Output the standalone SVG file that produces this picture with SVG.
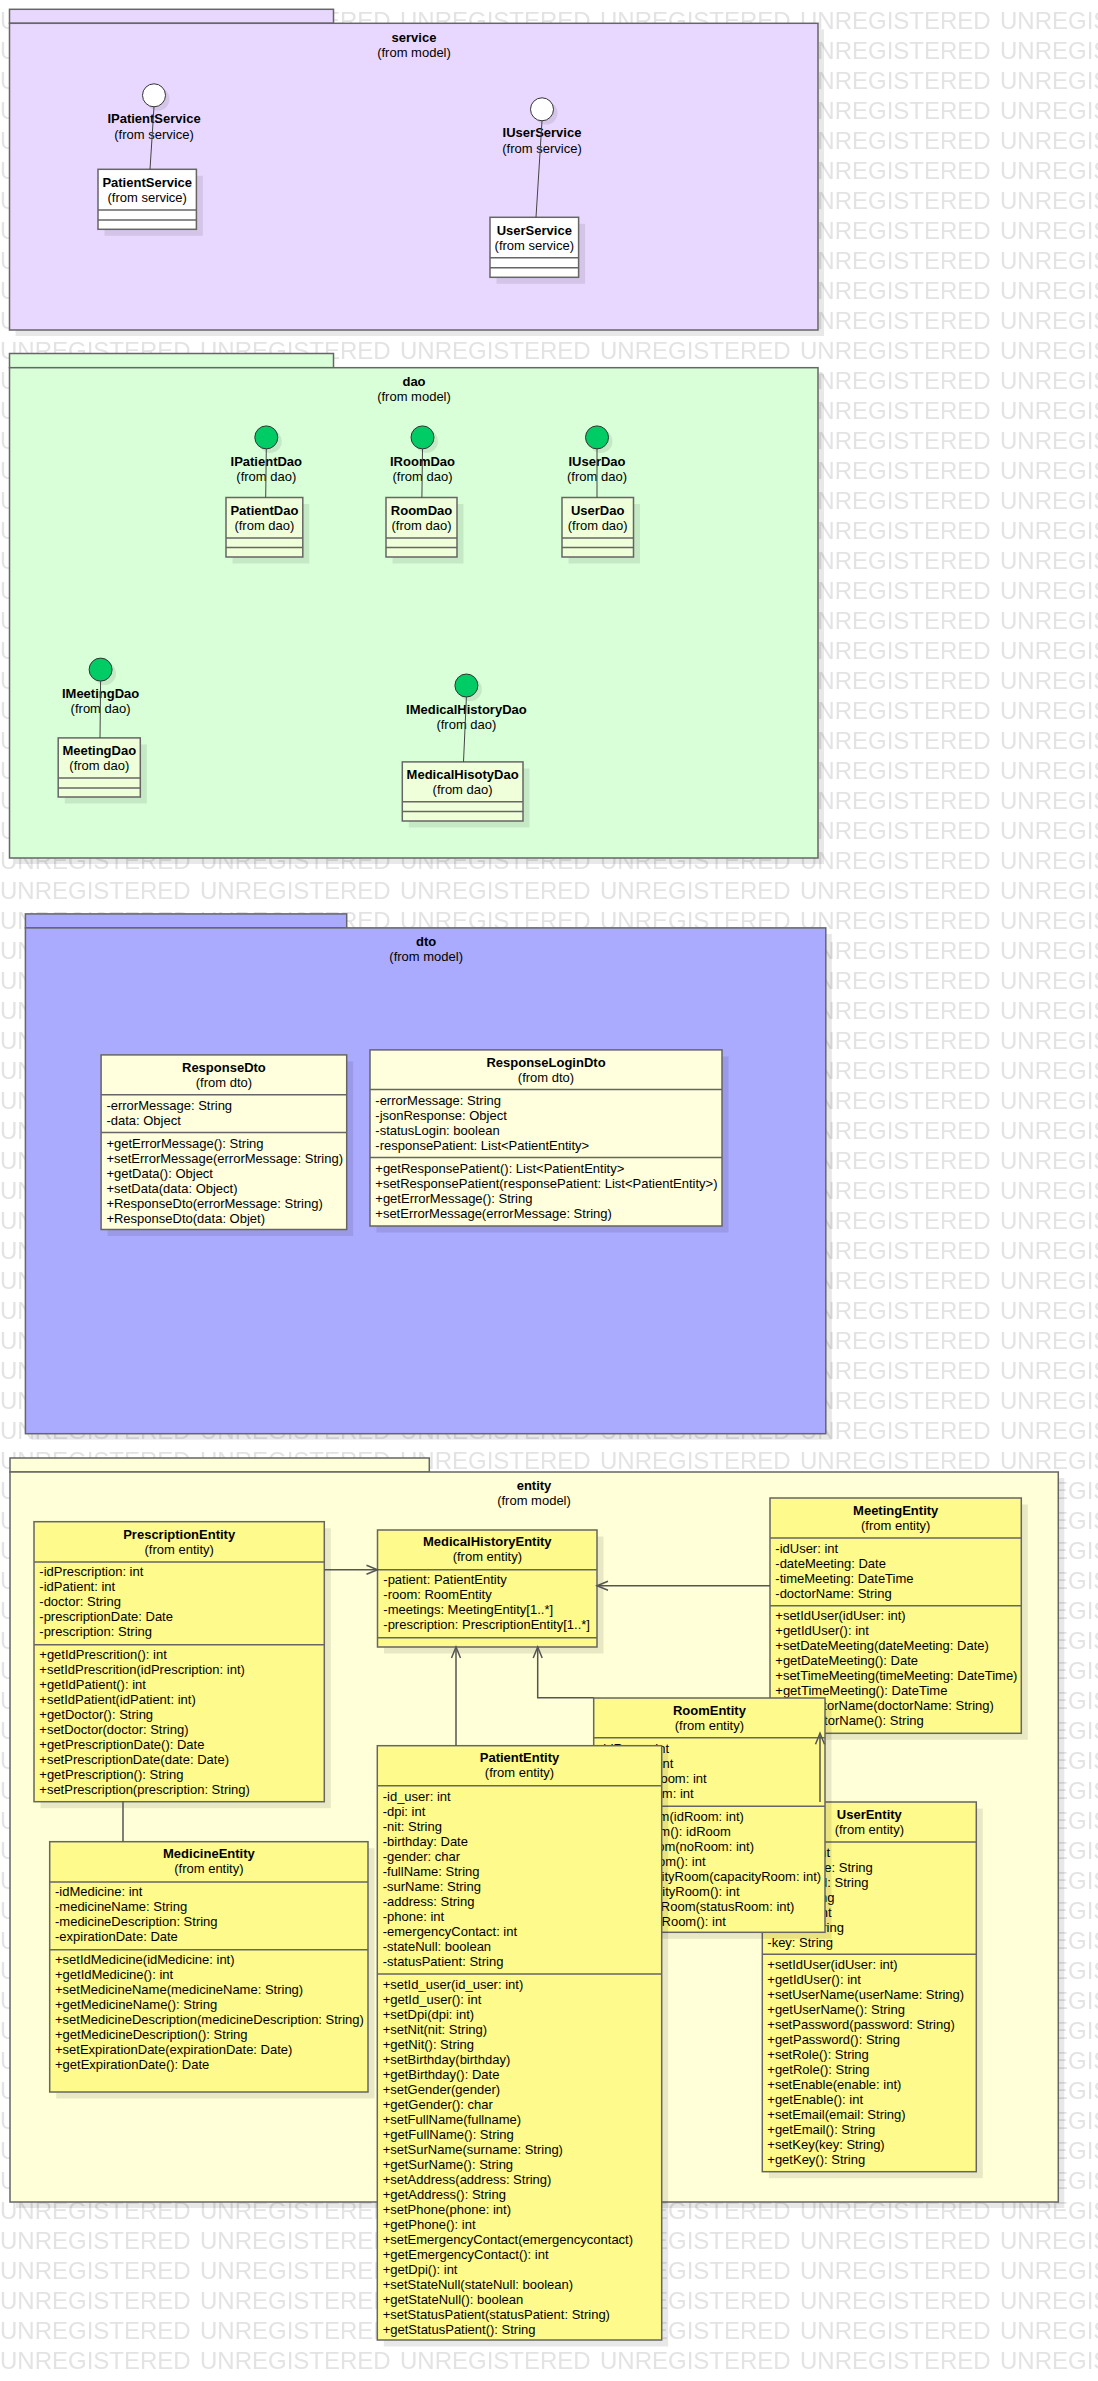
<svg xmlns="http://www.w3.org/2000/svg" width="1098" height="2381" viewBox="0 0 1098 2381">
<defs>
<style>
.t{font-family:"Liberation Sans",Arial,sans-serif;font-size:13px;fill:#000}
.b{font-weight:bold}
.c{text-anchor:middle}
.sh{fill:#000;opacity:.09}
.pk{stroke:#666;stroke-width:1.5}
.cb{stroke:#666;stroke-width:1.5}
.dv{stroke:#666;stroke-width:1.5}
.ln{stroke:#555;stroke-width:1.5;fill:none}
.il{stroke:#444;stroke-width:1;fill:none}
.ps{fill:#E8D8FF}
.pd{fill:#D9FFD9}
.po{fill:#AAAAFF}
.pe{fill:#FFFFD8}
.cs{fill:#FFFFFF}
.cd{fill:#EEFFD9}
.co{fill:#FFFFDD}
.ce{fill:#FFFA8C}
.ic{stroke:#333;stroke-width:1}
</style>
<pattern id="wm" patternUnits="userSpaceOnUse" x="0" y="0" width="200" height="30">
<text x="0" y="29" font-family="Liberation Sans, Arial, sans-serif" font-size="24" fill="#E3E3E3">UNREGISTERED</text>
</pattern>
<marker id="arr" markerUnits="userSpaceOnUse" markerWidth="14" markerHeight="12" refX="12" refY="6" orient="auto" viewBox="0 0 14 12">
<path d="M1,1.5 L12,6 L1,10.5" fill="none" stroke="#555" stroke-width="1.5"/>
</marker>
</defs>
<rect x="0" y="0" width="1098" height="2381" fill="#FFFFFF"/>
<rect x="0" y="0" width="1098" height="2381" fill="url(#wm)"/>

<!-- service package -->
<g id="pkg-service">
<rect class="sh" x="15.5" y="29.3" width="808.5" height="306.7"/>
<rect class="ps pk" x="9.5" y="9.3" width="324" height="14"/>
<rect class="ps pk" x="9.5" y="23.3" width="808.5" height="306.7"/>
<text class="t b c" x="414" y="41.7">service</text>
<text class="t c" x="414" y="56.7">(from model)</text>
</g>
<g id="IPatientService">
<circle class="sh" cx="158" cy="99" r="11.5"/>
<circle class="ic" cx="154" cy="95.3" r="11.5" fill="#FFFFFF"/>
<text class="t b c" x="154" y="123.3">IPatientService</text>
<text class="t c" x="154" y="138.7">(from service)</text>
</g>
<g id="PatientService">
<rect class="sh" x="104.5" y="175.8" width="98.4" height="60"/>
<rect class="cs cb" x="98" y="169.3" width="98.4" height="60"/>
<line class="dv" x1="98" y1="210" x2="196.4" y2="210"/>
<line class="dv" x1="98" y1="220" x2="196.4" y2="220"/>
<text class="t b c" x="147.2" y="186.7">PatientService</text>
<text class="t c" x="147.2" y="202">(from service)</text>
</g>
<g id="IUserService">
<circle class="sh" cx="546" cy="113" r="11.5"/>
<circle class="ic" cx="542" cy="109.3" r="11.5" fill="#FFFFFF"/>
<text class="t b c" x="542" y="137.3">IUserService</text>
<text class="t c" x="542" y="152.7">(from service)</text>
</g>
<g id="UserService">
<rect class="sh" x="496.5" y="223.8" width="88.6" height="60"/>
<rect class="cs cb" x="490" y="217.3" width="88.6" height="60"/>
<line class="dv" x1="490" y1="257.7" x2="578.6" y2="257.7"/>
<line class="dv" x1="490" y1="267.7" x2="578.6" y2="267.7"/>
<text class="t b c" x="534.3" y="234.7">UserService</text>
<text class="t c" x="534.3" y="250">(from service)</text>
</g>

<!-- dao package -->
<g id="pkg-dao">
<rect class="sh" x="15.5" y="373.7" width="808.5" height="490.3"/>
<rect class="pd pk" x="9.5" y="353.5" width="324" height="14.2"/>
<rect class="pd pk" x="9.5" y="367.7" width="808.5" height="490.3"/>
<text class="t b c" x="414" y="385.6">dao</text>
<text class="t c" x="414" y="400.8">(from model)</text>
</g>
<g id="IPatientDao">
<circle class="sh" cx="270.3" cy="441.4" r="11.5"/>
<circle class="ic" cx="266.3" cy="437.4" r="11.5" fill="#00CC66"/>
<text class="t b c" x="266.3" y="465.7">IPatientDao</text>
<text class="t c" x="266.3" y="480.9">(from dao)</text>
</g>
<g id="PatientDao">
<rect class="sh" x="232.5" y="504" width="76.8" height="59.5"/>
<rect class="cd cb" x="226" y="497.5" width="76.8" height="59.5"/>
<line class="dv" x1="226" y1="538.1" x2="302.8" y2="538.1"/>
<line class="dv" x1="226" y1="547.6" x2="302.8" y2="547.6"/>
<text class="t b c" x="264.4" y="514.7">PatientDao</text>
<text class="t c" x="264.4" y="529.6">(from dao)</text>
</g>
<g id="IRoomDao">
<circle class="sh" cx="426.5" cy="441.4" r="11.5"/>
<circle class="ic" cx="422.5" cy="437.4" r="11.5" fill="#00CC66"/>
<text class="t b c" x="422.5" y="465.7">IRoomDao</text>
<text class="t c" x="422.5" y="480.9">(from dao)</text>
</g>
<g id="RoomDao">
<rect class="sh" x="392.5" y="504" width="71" height="59.5"/>
<rect class="cd cb" x="386" y="497.5" width="71" height="59.5"/>
<line class="dv" x1="386" y1="538.1" x2="457" y2="538.1"/>
<line class="dv" x1="386" y1="547.6" x2="457" y2="547.6"/>
<text class="t b c" x="421.5" y="514.7">RoomDao</text>
<text class="t c" x="421.5" y="529.6">(from dao)</text>
</g>
<g id="IUserDao">
<circle class="sh" cx="601" cy="441.4" r="11.5"/>
<circle class="ic" cx="597" cy="437.4" r="11.5" fill="#00CC66"/>
<text class="t b c" x="597" y="465.7">IUserDao</text>
<text class="t c" x="597" y="480.9">(from dao)</text>
</g>
<g id="UserDao">
<rect class="sh" x="568.5" y="504" width="71.5" height="59.5"/>
<rect class="cd cb" x="562" y="497.5" width="71.5" height="59.5"/>
<line class="dv" x1="562" y1="538.1" x2="633.5" y2="538.1"/>
<line class="dv" x1="562" y1="547.6" x2="633.5" y2="547.6"/>
<text class="t b c" x="597.7" y="514.7">UserDao</text>
<text class="t c" x="597.7" y="529.6">(from dao)</text>
</g>
<g id="IMeetingDao">
<circle class="sh" cx="104.6" cy="673.6" r="11.5"/>
<circle class="ic" cx="100.6" cy="669.6" r="11.5" fill="#00CC66"/>
<text class="t b c" x="100.6" y="698">IMeetingDao</text>
<text class="t c" x="100.6" y="712.8">(from dao)</text>
</g>
<g id="MeetingDao">
<rect class="sh" x="64.7" y="744.4" width="82.1" height="59.1"/>
<rect class="cd cb" x="58.2" y="737.9" width="82.1" height="59.1"/>
<line class="dv" x1="58.2" y1="778.1" x2="140.3" y2="778.1"/>
<line class="dv" x1="58.2" y1="788" x2="140.3" y2="788"/>
<text class="t b c" x="99.3" y="755.1">MeetingDao</text>
<text class="t c" x="99.3" y="770">(from dao)</text>
</g>
<g id="IMedicalHistoryDao">
<circle class="sh" cx="470.4" cy="689.5" r="11.5"/>
<circle class="ic" cx="466.4" cy="685.5" r="11.5" fill="#00CC66"/>
<text class="t b c" x="466.4" y="713.5">IMedicalHistoryDao</text>
<text class="t c" x="466.4" y="728.7">(from dao)</text>
</g>
<g id="MedicalHisotyDao">
<rect class="sh" x="408.8" y="768.4" width="120.7" height="59.1"/>
<rect class="cd cb" x="402.3" y="761.9" width="120.7" height="59.1"/>
<line class="dv" x1="402.3" y1="801.8" x2="523" y2="801.8"/>
<line class="dv" x1="402.3" y1="811.6" x2="523" y2="811.6"/>
<text class="t b c" x="462.6" y="778.8">MedicalHisotyDao</text>
<text class="t c" x="462.6" y="793.6">(from dao)</text>
</g>

<!-- dto package -->
<g id="pkg-dto">
<rect class="sh" x="31.4" y="933.9" width="800.4" height="505.8"/>
<rect class="po pk" x="25.4" y="913.9" width="321.3" height="14"/>
<rect class="po pk" x="25.4" y="927.9" width="800.4" height="505.8"/>
<text class="t b c" x="426.2" y="946">dto</text>
<text class="t c" x="426.2" y="961">(from model)</text>
</g>
<g id="ResponseDto">
<rect class="sh" x="107.6" y="1061.4" width="245.6" height="174.6"/>
<rect class="co cb" x="101.1" y="1054.9" width="245.6" height="174.6"/>
<line class="dv" x1="101.1" y1="1094.8" x2="346.7" y2="1094.8"/>
<line class="dv" x1="101.1" y1="1132.4" x2="346.7" y2="1132.4"/>
<text class="t b c" x="223.9" y="1072.3">ResponseDto</text>
<text class="t c" x="223.9" y="1087.4">(from dto)</text>
<text class="t" x="106.4" y="1109.9"><tspan>-errorMessage: String</tspan><tspan x="106.4" dy="15">-data: Object</tspan></text>
<text class="t" x="106.4" y="1147.7"><tspan>+getErrorMessage(): String</tspan><tspan x="106.4" dy="15.1">+setErrorMessage(errorMessage: String)</tspan><tspan x="106.4" dy="15.1">+getData(): Object</tspan><tspan x="106.4" dy="15.1">+setData(data: Object)</tspan><tspan x="106.4" dy="15.1">+ResponseDto(errorMessage: String)</tspan><tspan x="106.4" dy="15.1">+ResponseDto(data: Objet)</tspan></text>
</g>
<g id="ResponseLoginDto">
<rect class="sh" x="376.5" y="1056.4" width="352" height="176.1"/>
<rect class="co cb" x="370" y="1049.9" width="352" height="176.1"/>
<line class="dv" x1="370" y1="1089.6" x2="722" y2="1089.6"/>
<line class="dv" x1="370" y1="1157.6" x2="722" y2="1157.6"/>
<text class="t b c" x="546" y="1067.1">ResponseLoginDto</text>
<text class="t c" x="546" y="1082.2">(from dto)</text>
<text class="t" x="375.3" y="1104.9"><tspan>-errorMessage: String</tspan><tspan x="375.3" dy="15.1">-jsonResponse: Object</tspan><tspan x="375.3" dy="15.1">-statusLogin: boolean</tspan><tspan x="375.3" dy="15.1">-responsePatient: List&lt;PatientEntity&gt;</tspan></text>
<text class="t" x="375.3" y="1173.3"><tspan>+getResponsePatient(): List&lt;PatientEntity&gt;</tspan><tspan x="375.3" dy="15">+setResponsePatient(responsePatient: List&lt;PatientEntity&gt;)</tspan><tspan x="375.3" dy="15">+getErrorMessage(): String</tspan><tspan x="375.3" dy="15">+setErrorMessage(errorMessage: String)</tspan></text>
</g>

<!-- entity package -->
<g id="pkg-entity">
<rect class="sh" x="16" y="1478" width="1048.3" height="730"/>
<rect class="pe pk" x="10" y="1458" width="419.3" height="14"/>
<rect class="pe pk" x="10" y="1472" width="1048.3" height="730"/>
<text class="t b c" x="534" y="1489.7">entity</text>
<text class="t c" x="534" y="1504.7">(from model)</text>
</g>
<g id="PrescriptionEntity">
<rect class="sh" x="40.5" y="1528.2" width="290.3" height="280"/>
<rect class="ce cb" x="34" y="1521.7" width="290.3" height="280"/>
<line class="dv" x1="34" y1="1562" x2="324.3" y2="1562"/>
<line class="dv" x1="34" y1="1644.7" x2="324.3" y2="1644.7"/>
<text class="t b c" x="179.2" y="1539">PrescriptionEntity</text>
<text class="t c" x="179.2" y="1554">(from entity)</text>
<text class="t" x="39.3" y="1576.3"><tspan>-idPrescription: int</tspan><tspan x="39.3" dy="15">-idPatient: int</tspan><tspan x="39.3" dy="15">-doctor: String</tspan><tspan x="39.3" dy="15">-prescriptionDate: Date</tspan><tspan x="39.3" dy="15">-prescription: String</tspan></text>
<text class="t" x="39.3" y="1659.3"><tspan>+getIdPrescrition(): int</tspan><tspan x="39.3" dy="15">+setIdPrescrition(idPrescription: int)</tspan><tspan x="39.3" dy="15">+getIdPatient(): int</tspan><tspan x="39.3" dy="15">+setIdPatient(idPatient: int)</tspan><tspan x="39.3" dy="15">+getDoctor(): String</tspan><tspan x="39.3" dy="15">+setDoctor(doctor: String)</tspan><tspan x="39.3" dy="15">+getPrescriptionDate(): Date</tspan><tspan x="39.3" dy="15">+setPrescriptionDate(date: Date)</tspan><tspan x="39.3" dy="15">+getPrescription(): String</tspan><tspan x="39.3" dy="15">+setPrescription(prescription: String)</tspan></text>
</g>
<g id="MedicineEntity">
<rect class="sh" x="56.2" y="1848.2" width="318.3" height="250.3"/>
<rect class="ce cb" x="49.7" y="1841.7" width="318.3" height="250.3"/>
<line class="dv" x1="49.7" y1="1882" x2="368" y2="1882"/>
<line class="dv" x1="49.7" y1="1949.7" x2="368" y2="1949.7"/>
<text class="t b c" x="208.9" y="1858.3">MedicineEntity</text>
<text class="t c" x="208.9" y="1873.3">(from entity)</text>
<text class="t" x="55" y="1896.3"><tspan>-idMedicine: int</tspan><tspan x="55" dy="15">-medicineName: String</tspan><tspan x="55" dy="15">-medicineDescription: String</tspan><tspan x="55" dy="15">-expirationDate: Date</tspan></text>
<text class="t" x="55" y="1964.3"><tspan>+setIdMedicine(idMedicine: int)</tspan><tspan x="55" dy="15">+getIdMedicine(): int</tspan><tspan x="55" dy="15">+setMedicineName(medicineName: String)</tspan><tspan x="55" dy="15">+getMedicineName(): String</tspan><tspan x="55" dy="15">+setMedicineDescription(medicineDescription: String)</tspan><tspan x="55" dy="15">+getMedicineDescription(): String</tspan><tspan x="55" dy="15">+setExpirationDate(expirationDate: Date)</tspan><tspan x="55" dy="15">+getExpirationDate(): Date</tspan></text>
</g>
<g id="MedicalHistoryEntity">
<rect class="sh" x="384" y="1536.5" width="219.5" height="117"/>
<rect class="ce cb" x="377.5" y="1530" width="219.5" height="117"/>
<line class="dv" x1="377.5" y1="1569.7" x2="597" y2="1569.7"/>
<line class="dv" x1="377.5" y1="1637.7" x2="597" y2="1637.7"/>
<text class="t b c" x="487.3" y="1546.3">MedicalHistoryEntity</text>
<text class="t c" x="487.3" y="1561.3">(from entity)</text>
<text class="t" x="383.3" y="1584.3"><tspan>-patient: PatientEntity</tspan><tspan x="383.3" dy="15">-room: RoomEntity</tspan><tspan x="383.3" dy="15">-meetings: MeetingEntity[1..*]</tspan><tspan x="383.3" dy="15">-prescription: PrescriptionEntity[1..*]</tspan></text>
</g>
<g id="MeetingEntity">
<rect class="sh" x="776.5" y="1504.5" width="251.3" height="235.3"/>
<rect class="ce cb" x="770" y="1498" width="251.3" height="235.3"/>
<line class="dv" x1="770" y1="1538" x2="1021.3" y2="1538"/>
<line class="dv" x1="770" y1="1605.7" x2="1021.3" y2="1605.7"/>
<text class="t b c" x="895.7" y="1514.7">MeetingEntity</text>
<text class="t c" x="895.7" y="1529.7">(from entity)</text>
<text class="t" x="775.3" y="1552.7"><tspan>-idUser: int</tspan><tspan x="775.3" dy="15">-dateMeeting: Date</tspan><tspan x="775.3" dy="15">-timeMeeting: DateTime</tspan><tspan x="775.3" dy="15">-doctorName: String</tspan></text>
<text class="t" x="775.3" y="1620.3"><tspan>+setIdUser(idUser: int)</tspan><tspan x="775.3" dy="15">+getIdUser(): int</tspan><tspan x="775.3" dy="15">+setDateMeeting(dateMeeting: Date)</tspan><tspan x="775.3" dy="15">+getDateMeeting(): Date</tspan><tspan x="775.3" dy="15">+setTimeMeeting(timeMeeting: DateTime)</tspan><tspan x="775.3" dy="15">+getTimeMeeting(): DateTime</tspan><tspan x="775.3" dy="15">+setDoctorName(doctorName: String)</tspan><tspan x="775.3" dy="15">+getDoctorName(): String</tspan></text>
</g>
<g id="UserEntity">
<rect class="sh" x="768.8" y="1808.5" width="214" height="369.7"/>
<rect class="ce cb" x="762.3" y="1802" width="214" height="369.7"/>
<line class="dv" x1="762.3" y1="1842" x2="976.3" y2="1842"/>
<line class="dv" x1="762.3" y1="1954.3" x2="976.3" y2="1954.3"/>
<text class="t b c" x="869.3" y="1818.7">UserEntity</text>
<text class="t c" x="869.3" y="1833.7">(from entity)</text>
<text class="t" x="767.3" y="1857"><tspan>-idUser: int</tspan><tspan x="767.3" dy="15">-userName: String</tspan><tspan x="767.3" dy="15">-password: String</tspan><tspan x="767.3" dy="15">-role: String</tspan><tspan x="767.3" dy="15">-enable: int</tspan><tspan x="767.3" dy="15">-email: String</tspan><tspan x="767.3" dy="15">-key: String</tspan></text>
<text class="t" x="767.3" y="1969"><tspan>+setIdUser(idUser: int)</tspan><tspan x="767.3" dy="15">+getIdUser(): int</tspan><tspan x="767.3" dy="15">+setUserName(userName: String)</tspan><tspan x="767.3" dy="15">+getUserName(): String</tspan><tspan x="767.3" dy="15">+setPassword(password: String)</tspan><tspan x="767.3" dy="15">+getPassword(): String</tspan><tspan x="767.3" dy="15">+setRole(): String</tspan><tspan x="767.3" dy="15">+getRole(): String</tspan><tspan x="767.3" dy="15">+setEnable(enable: int)</tspan><tspan x="767.3" dy="15">+getEnable(): int</tspan><tspan x="767.3" dy="15">+setEmail(email: String)</tspan><tspan x="767.3" dy="15">+getEmail(): String</tspan><tspan x="767.3" dy="15">+setKey(key: String)</tspan><tspan x="767.3" dy="15">+getKey(): String</tspan></text>
</g>
<g id="RoomEntity">
<rect class="sh" x="600.2" y="1704.5" width="231.3" height="234.3"/>
<rect class="ce cb" x="593.7" y="1698" width="231.3" height="234.3"/>
<line class="dv" x1="593.7" y1="1737.7" x2="825" y2="1737.7"/>
<line class="dv" x1="593.7" y1="1806.3" x2="825" y2="1806.3"/>
<text class="t b c" x="709.4" y="1714.7">RoomEntity</text>
<text class="t c" x="709.4" y="1729.7">(from entity)</text>
<text class="t" x="599" y="1752.7"><tspan>-idRoom: int</tspan><tspan x="599" dy="15">-noRoom: int</tspan><tspan x="599" dy="15">-capacityRoom: int</tspan><tspan x="599" dy="15">-statusRoom: int</tspan></text>
<text class="t" x="599" y="1820.7"><tspan>+setIdRoom(idRoom: int)</tspan><tspan x="599" dy="15">+getIdRoom(): idRoom</tspan><tspan x="599" dy="15">+setNoRoom(noRoom: int)</tspan><tspan x="599" dy="15">+getNoRoom(): int</tspan><tspan x="599" dy="15">+setCapacityRoom(capacityRoom: int)</tspan><tspan x="599" dy="15">+getCapacityRoom(): int</tspan><tspan x="599" dy="15">+setStatusRoom(statusRoom: int)</tspan><tspan x="599" dy="15">+getStatusRoom(): int</tspan></text>
</g>
<g id="PatientEntity">
<rect class="sh" x="383.8" y="1752.2" width="284.4" height="594.3"/>
<rect class="ce cb" x="377.3" y="1745.7" width="284.4" height="594.3"/>
<line class="dv" x1="377.3" y1="1785.7" x2="661.7" y2="1785.7"/>
<line class="dv" x1="377.3" y1="1974" x2="661.7" y2="1974"/>
<text class="t b c" x="519.5" y="1762.3">PatientEntity</text>
<text class="t c" x="519.5" y="1777.3">(from entity)</text>
<text class="t" x="382.7" y="1800.7"><tspan>-id_user: int</tspan><tspan x="382.7" dy="15">-dpi: int</tspan><tspan x="382.7" dy="15">-nit: String</tspan><tspan x="382.7" dy="15">-birthday: Date</tspan><tspan x="382.7" dy="15">-gender: char</tspan><tspan x="382.7" dy="15">-fullName: String</tspan><tspan x="382.7" dy="15">-surName: String</tspan><tspan x="382.7" dy="15">-address: String</tspan><tspan x="382.7" dy="15">-phone: int</tspan><tspan x="382.7" dy="15">-emergencyContact: int</tspan><tspan x="382.7" dy="15">-stateNull: boolean</tspan><tspan x="382.7" dy="15">-statusPatient: String</tspan></text>
<text class="t" x="382.7" y="1989"><tspan>+setId_user(id_user: int)</tspan><tspan x="382.7" dy="15">+getId_user(): int</tspan><tspan x="382.7" dy="15">+setDpi(dpi: int)</tspan><tspan x="382.7" dy="15">+setNit(nit: String)</tspan><tspan x="382.7" dy="15">+getNit(): String</tspan><tspan x="382.7" dy="15">+setBirthday(birthday)</tspan><tspan x="382.7" dy="15">+getBirthday(): Date</tspan><tspan x="382.7" dy="15">+setGender(gender)</tspan><tspan x="382.7" dy="15">+getGender(): char</tspan><tspan x="382.7" dy="15">+setFullName(fullname)</tspan><tspan x="382.7" dy="15">+getFullName(): String</tspan><tspan x="382.7" dy="15">+setSurName(surname: String)</tspan><tspan x="382.7" dy="15">+getSurName(): String</tspan><tspan x="382.7" dy="15">+setAddress(address: String)</tspan><tspan x="382.7" dy="15">+getAddress(): String</tspan><tspan x="382.7" dy="15">+setPhone(phone: int)</tspan><tspan x="382.7" dy="15">+getPhone(): int</tspan><tspan x="382.7" dy="15">+setEmergencyContact(emergencycontact)</tspan><tspan x="382.7" dy="15">+getEmergencyContact(): int</tspan><tspan x="382.7" dy="15">+getDpi(): int</tspan><tspan x="382.7" dy="15">+setStateNull(stateNull: boolean)</tspan><tspan x="382.7" dy="15">+getStateNull(): boolean</tspan><tspan x="382.7" dy="15">+setStatusPatient(statusPatient: String)</tspan><tspan x="382.7" dy="15">+getStatusPatient(): String</tspan></text>
</g>

<!-- connectors -->
<g id="connectors">
<line class="il" x1="154" y1="106.8" x2="150" y2="169.3"/>
<line class="il" x1="542" y1="120.8" x2="536" y2="217.3"/>
<line class="il" x1="266.3" y1="448.9" x2="265.7" y2="497.5"/>
<line class="il" x1="422.5" y1="448.9" x2="421.9" y2="497.5"/>
<line class="il" x1="597" y1="448.9" x2="597" y2="497.5"/>
<line class="il" x1="100.6" y1="681.1" x2="100" y2="737.9"/>
<line class="il" x1="466.4" y1="697" x2="463.5" y2="761.9"/>
<path class="ln" d="M324.3,1569.7 L377.5,1569.7" marker-end="url(#arr)"/>
<path class="ln" d="M770,1585.7 L597,1585.7" marker-end="url(#arr)"/>
<path class="ln" d="M456,1745.7 L456,1647" marker-end="url(#arr)"/>
<path class="ln" d="M593.7,1697.7 L537.7,1697.7 L537.7,1647" marker-end="url(#arr)"/>
<path class="ln" d="M820,1802 L820,1733.3" marker-end="url(#arr)"/>
<path class="ln" d="M123,1801.7 L123,1841.7"/>
</g>
</svg>
